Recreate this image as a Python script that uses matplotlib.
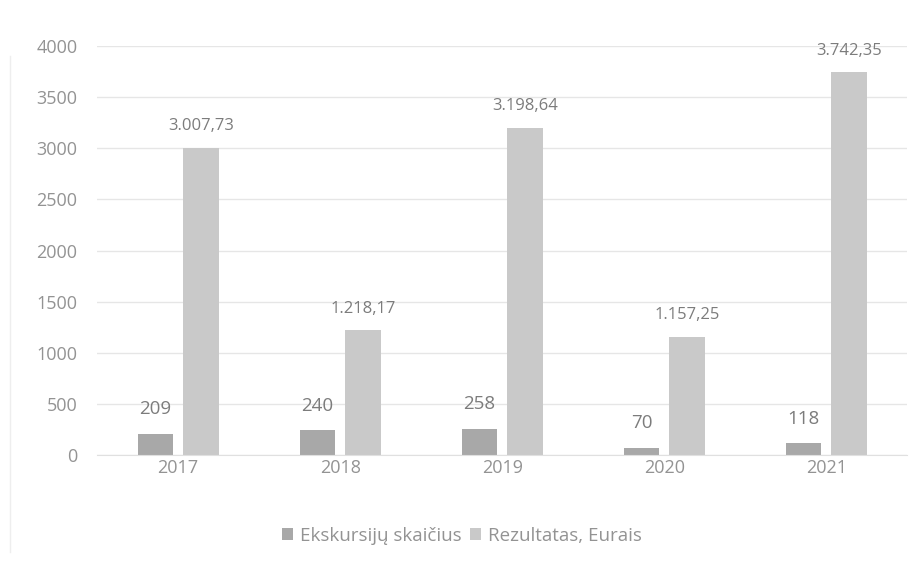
import matplotlib.pyplot as plt
import numpy as np

plt.rcParams['font.family'] = ['Open Sans', 'DejaVu Sans']

# data
years = ['2017', '2018', '2019', '2020', '2021']
excursions = [209, 240, 258, 70, 118]
result_eur = [3007.73, 1218.17, 3198.64, 1157.25, 3742.35]
result_labels = ['3.007,73', '1.218,17', '3.198,64', '1.157,25', '3.742,35']
series_names = ['Ekskursijų skaičius', 'Rezultatas, Eurais']

text_color = '#939393'
label_color = '#7c7c7c'
c1 = '#a8a8a8'
c2 = '#c9c9c9'

fig = plt.figure(figsize=(9.24, 5.63), dpi=100)
ax = fig.add_axes([0.105, 0.192, 0.877, 0.726])

x = np.arange(len(years))
width = 0.22
gap = 0.06
b1 = ax.bar(x - (width + gap) / 2, excursions, width, color=c1, label=series_names[0])
b2 = ax.bar(x + (width + gap) / 2, result_eur, width, color=c2, label=series_names[1])

for rect, v in zip(b1, excursions):
    ax.annotate(str(v), (rect.get_x() + rect.get_width() / 2, rect.get_height()),
                xytext=(0, 11), textcoords='offset points', ha='center', va='bottom',
                fontsize=13.5, color=label_color)
for rect, s in zip(b2, result_labels):
    ax.annotate(s, (rect.get_x() + rect.get_width() / 2, rect.get_height()),
                xytext=(0, 10), textcoords='offset points', ha='center', va='bottom',
                fontsize=12, color=label_color)

ax.set_xlim(-0.5, 4.5)
ax.set_ylim(0, 4000)
ax.set_yticks(np.arange(0, 4001, 500))
ax.set_xticks(x)
ax.set_xticklabels(years)
ax.yaxis.grid(True, color='#e6e6e6', linewidth=1)
ax.set_axisbelow(True)
for s in ['top', 'right', 'left']:
    ax.spines[s].set_visible(False)
ax.spines['bottom'].set_color('#e0e0e0')
ax.tick_params(length=0, labelsize=13, colors=text_color)
ax.tick_params(axis='y', pad=14)
ax.tick_params(axis='x', pad=3)

fig.legend(loc='center', bbox_to_anchor=(0.5, 0.048), ncol=2, frameon=False,
           fontsize=13.5, labelcolor=text_color, handlelength=0.6, handleheight=0.6,
           handletextpad=0.4, columnspacing=0.4)

# faint frame line of the scanned chart
fig.add_artist(plt.Line2D([0.011, 0.011], [0.02, 0.9], color='#eeeeee', lw=1))

fig.savefig('out.png', dpi=100)
